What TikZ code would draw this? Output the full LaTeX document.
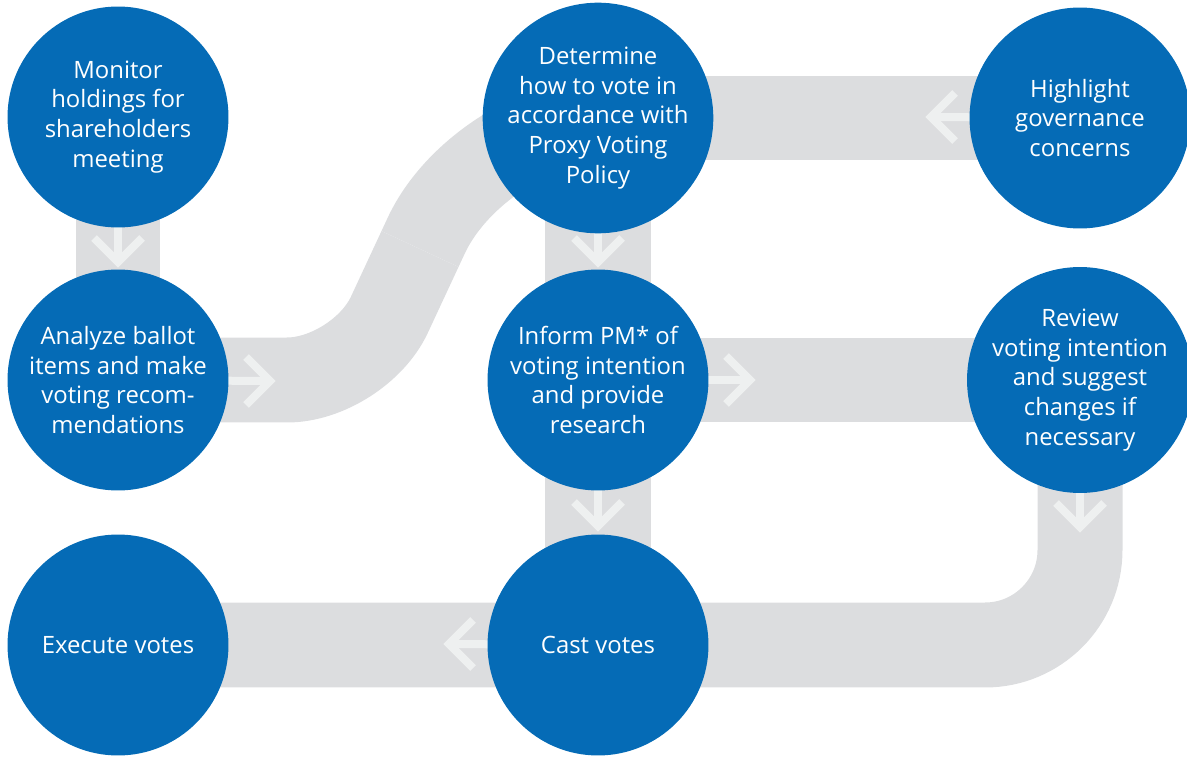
\documentclass[tikz,border=0pt]{standalone}
\usepackage{fontspec}
\setmainfont{Open Sans}
\usetikzlibrary{backgrounds}

\definecolor{stageblue}{RGB}{5,107,182}
\definecolor{bandgray}{RGB}{220,221,223}
\definecolor{flowwhite}{RGB}{238,240,240}

\tikzset{
  stage/.style={circle, fill=stageblue, text=white, minimum size=4.42cm, inner sep=0pt,
    align=center, font=\fontsize{13.6}{17}\selectfont},
  band/.style={draw=bandgray, line width=1.7cm},
  wideband/.style={draw=bandgray, line width=2.14cm},
  flow/.style={draw=flowwhite, line width=0.16cm, line join=miter},
}

\begin{document}
\begin{tikzpicture}[x=0.02cm, y=-0.02cm]
    \useasboundingbox (0,0) rectangle (1187,757);

    % stages
    \node[stage] (monitor)   at (118,117)  {Monitor\\holdings for\\shareholders\\meeting};
    \node[stage] (analyze)   at (118,380)  {Analyze ballot\\items and make\\voting recom-\\mendations};
    \node[stage] (execute)   at (118,645)  {Execute votes};
    \node[stage] (determine) at (598,118)  {Determine\\how to vote in\\accordance with\\Proxy Voting\\Policy};
    \node[stage] (inform)    at (598,380)  {Inform PM* of\\voting intention\\and provide\\research};
    \node[stage] (cast)      at (598,645)  {Cast votes};
    \node[stage] (highlight) at (1080,118) {Highlight\\governance\\concerns};
    \node[stage] (review)    at (1080,380) {Review\\voting intention\\and suggest\\changes if\\necessary};

    % bends of the bands and arrow tips
    \coordinate (s1) at (359,380);
    \coordinate (sm) at (420,249);
    \coordinate (s2) at (481,118);
    \coordinate (bend) at (1080,645);
    \coordinate (t1) at (118,262);
    \coordinate (t2) at (270,381);
    \coordinate (t3) at (931,117);
    \coordinate (t4) at (598,262);
    \coordinate (t5) at (750,380);
    \coordinate (t6) at (598,526);
    \coordinate (t7) at (1080,527);
    \coordinate (t8) at (449,644);

    \begin{pgfonlayer}{background}
        % bands
        \draw[band] (monitor.center) -- (analyze.center);
        \draw[band, rounded corners=1.44cm] (analyze.center) -- (s1) -- (sm);
        \draw[band, rounded corners=2.6cm] (sm) -- (s2) -- (determine.center);
        \draw[band] (determine.center) -- (highlight.center);
        \draw[wideband] (determine.center) -- (cast.center);
        \draw[band] (inform.center) -- (review.center);
        \draw[band, rounded corners=1.9cm] (review.center) -- (bend) -- (cast.center) -- (execute.center);

        % arrows
        \draw[flow] (monitor.center) -- (t1);
        \draw[flow] (t1) ++(-24,-24) -- (t1) -- ++(24,-24);
        \draw[flow] (analyze.center) -- (t2);
        \draw[flow] (t2) ++(-24,-24) -- (t2) -- ++(-24,24);
        \draw[flow] (highlight.center) -- (t3);
        \draw[flow] (t3) ++(24,-24) -- (t3) -- ++(24,24);
        \draw[flow] (determine.center) -- (t4);
        \draw[flow] (t4) ++(-24,-24) -- (t4) -- ++(24,-24);
        \draw[flow] (inform.center) -- (t5);
        \draw[flow] (t5) ++(-24,-24) -- (t5) -- ++(-24,24);
        \draw[flow] (inform.center) -- (t6);
        \draw[flow] (t6) ++(-24,-24) -- (t6) -- ++(24,-24);
        \draw[flow] (review.center) -- (t7);
        \draw[flow] (t7) ++(-24,-24) -- (t7) -- ++(24,-24);
        \draw[flow] (cast.center) -- (t8);
        \draw[flow] (t8) ++(24,-24) -- (t8) -- ++(24,24);
    \end{pgfonlayer}
\end{tikzpicture}
\end{document}
